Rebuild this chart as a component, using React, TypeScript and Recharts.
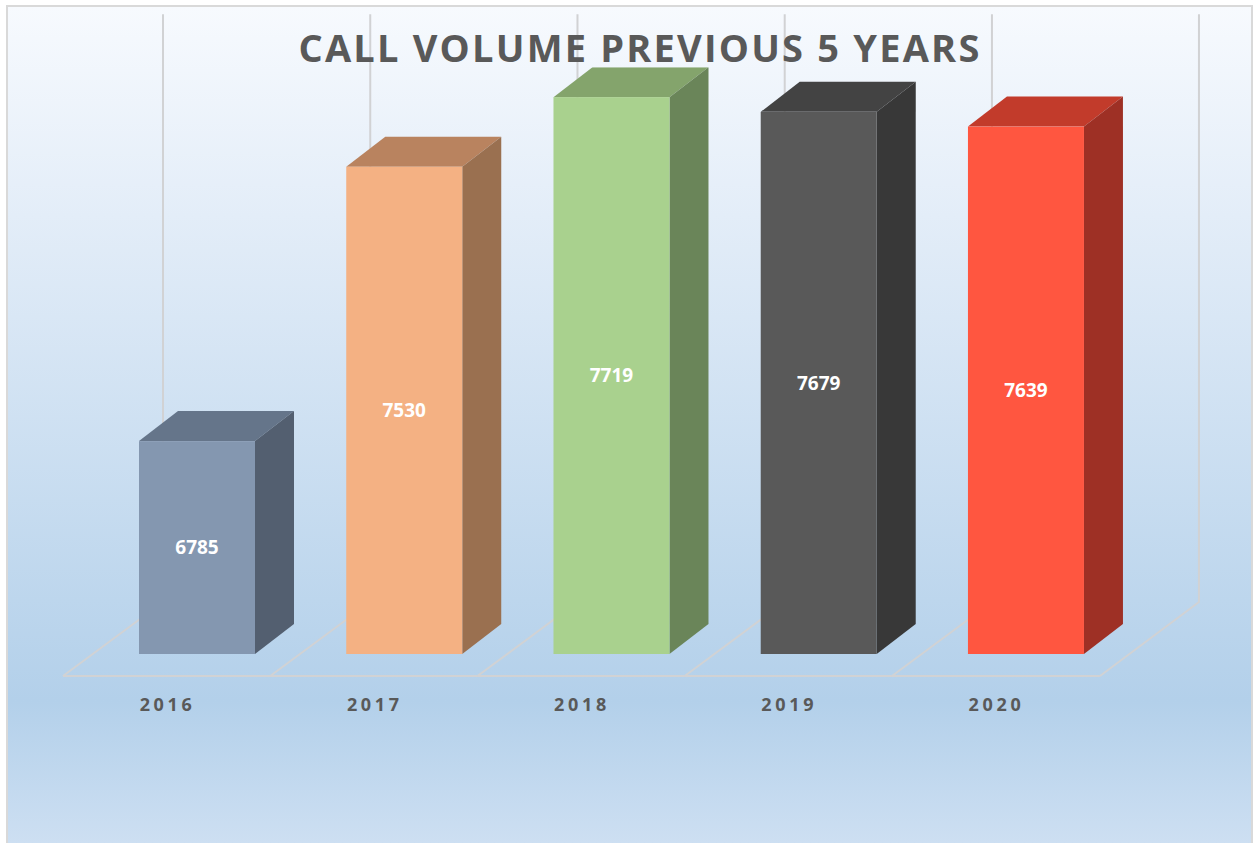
import React from "react";
import { BarChart, Bar, XAxis, YAxis, LabelList } from "recharts";

const titleText = "CALL VOLUME PREVIOUS 5 YEARS";
const years = ["2016", "2017", "2018", "2019", "2020"];
const volumes = [6785, 7530, 7719, 7679, 7639];
const faceColors = ["#8497B0", "#F4B183", "#A9D18E", "#595959", "#FF5640"];
const topColors = ["#65758A", "#B9835F", "#84A46C", "#434343", "#C23B2B"];
const sideColors = ["#535F70", "#9A7050", "#6A8559", "#383838", "#9E3025"];

const rows = years.map((year, i) => ({ year, volume: volumes[i] }));

const FONT = "'Open Sans', sans-serif";
const LINE = "#D1D2D4";
const DX = 39;
const DY = 30;

function Box3D(props: any) {
  const { x, y, width, height, index } = props;
  const r = x + width;
  const b = y + height;
  return (
    <g>
      <polygon points={`${x},${y} ${x + DX},${y - DY} ${r + DX},${y - DY} ${r},${y}`} fill={topColors[index]} />
      <polygon points={`${r},${y} ${r + DX},${y - DY} ${r + DX},${b - DY} ${r},${b}`} fill={sideColors[index]} />
      <rect x={x} y={y} width={width} height={height} fill={faceColors[index]} />
    </g>
  );
}

function Stage(props: any) {
  const { x, y, width, height, index } = props;
  const bottom = y + height;
  const front = bottom + 22;
  const back = bottom - 52;
  const wallTop = y - 53;
  const common = { stroke: LINE, strokeWidth: 2, fill: "none" };
  const isLast = index === years.length - 1;
  const l = x - 76;
  const rr = x + 132;
  return (
    <g>
      <line x1={x + 24} y1={wallTop} x2={x + 24} y2={back} {...common} />
      <line x1={l} y1={front} x2={x + 24} y2={back} {...common} />
      <line x1={l} y1={front} x2={rr} y2={front} {...common} />
      {isLast && <polyline points={`${rr},${front} ${rr + 99},${back} ${rr + 99},${wallTop}`} {...common} />}
    </g>
  );
}

function YearTick(props: any) {
  const { x, y, payload } = props;
  return (
    <text x={x - 29} y={y + 49} textAnchor="middle" fill="#595959" fontFamily={FONT} fontWeight={700} fontSize={18} letterSpacing={3.7}>
      {payload.value}
    </text>
  );
}

export default function App() {
  return (
    <div style={{ position: "absolute", left: 0, top: 0, width: 1255, height: 843, overflow: "hidden", background: "#fff" }}>
      <div
        style={{
          position: "absolute",
          left: 6,
          top: 5,
          width: 1247,
          height: 838,
          boxSizing: "border-box",
          border: "2px solid #D9D9D9",
          borderBottom: "none",
          background: "linear-gradient(180deg, #F7FAFE 0%, #E3EDF8 25%, #B3D0EA 83%, #CDDFF2 100%)",
        }}
      />
      <div style={{ position: "absolute", left: 0, top: 0 }}>
        <BarChart
          width={1255}
          height={843}
          data={rows}
          margin={{ top: 67.3, right: 125.8, bottom: 149, left: 93 }}
        >
          <XAxis dataKey="year" height={40} axisLine={false} tickLine={false} tick={YearTick} />
          <YAxis hide domain={[6207, 7800]} allowDataOverflow />
          <Bar dataKey="volume" barSize={116} isAnimationActive={false} background={Stage} shape={Box3D}>
            <LabelList dataKey="volume" position="center" fill="#FFFFFF" fontFamily={FONT} fontWeight={700} fontSize={19} />
          </Bar>
        </BarChart>
      </div>
      <div
        style={{
          position: "absolute",
          left: 0,
          width: 1280,
          top: 21,
          textAlign: "center",
          fontFamily: FONT,
          fontWeight: 700,
          fontSize: 38,
          lineHeight: "52px",
          letterSpacing: 2.2,
          color: "#595959",
          whiteSpace: "nowrap",
        }}
      >
        {titleText}
      </div>
    </div>
  );
}
